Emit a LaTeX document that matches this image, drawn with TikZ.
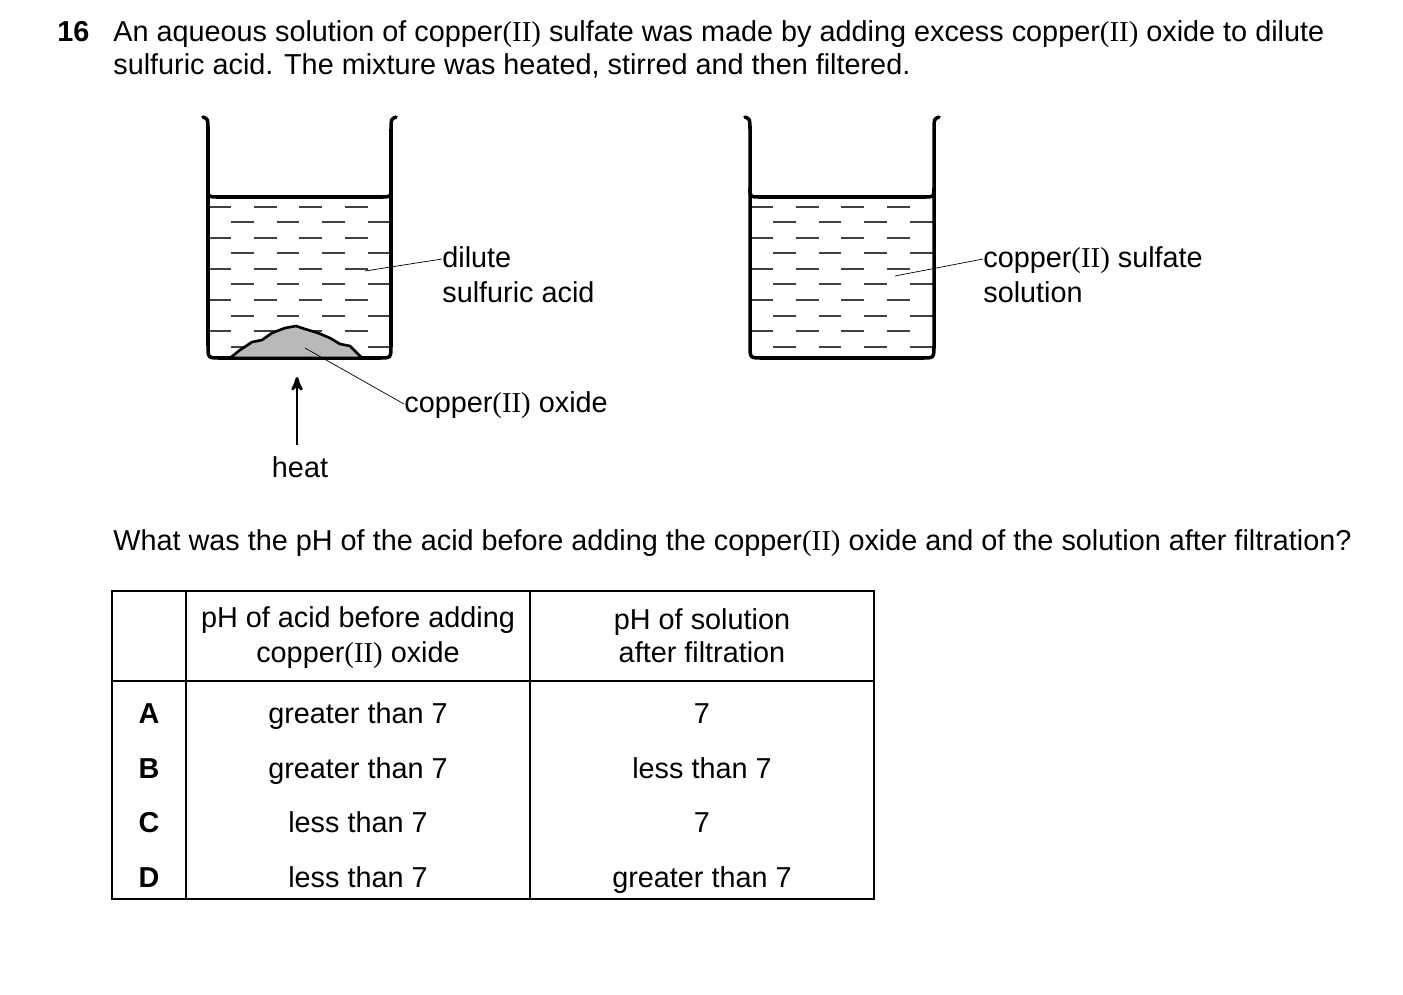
\documentclass[tikz,border=0pt]{standalone}
\usepackage{fontspec}
\setmainfont{Liberation Sans}
\newfontfamily\romfont{Liberation Serif}
\usetikzlibrary{arrows}
\newcommand{\cuII}{{\romfont(II)}}
\newcommand{\beaker}[2]{%
  \begin{scope}
    \clip (#1+1,198) rectangle (#2-1,357);
    \foreach \y in {207,238,269,300,331}
      \draw[liquid] (#1,\y) -- (#2,\y);
    \foreach \y in {222,253,284,316,347}
      \draw[liquid,dash phase=13] (#1,\y) -- (#2,\y);
  \end{scope}
  \draw[glass] (#1-5,117) .. controls (#1,119) .. (#1,130) -- (#1,345)
    .. controls (#1,358) .. (#1+12,358) -- (#2-12,358)
    .. controls (#2,358) .. (#2,345) -- (#2,130)
    .. controls (#2,119) .. (#2+5,117);
  \draw[glass] (#1,188) .. controls (#1,197) .. (#1+10,197) -- (#2-10,197)
    .. controls (#2,197) .. (#2,188);
}

\begin{document}
\begin{tikzpicture}[x=0.02cm,y=-0.02cm,>=stealth',
	glass/.style={line width=2pt,line cap=round},
	liquid/.style={line width=0.8pt,dash pattern=on 13 off 13,black!75},
	lbl/.style={font=\fontsize{16.4}{20}\selectfont,inner sep=0pt,anchor=base west},
	cell/.style={font=\fontsize{16.4}{20}\selectfont,align=center,inner sep=0pt,anchor=base}]
	\useasboundingbox (0,0) rectangle (1403,994);
	
	% question
	\node[lbl,font=\fontsize{16.4}{20}\selectfont\bfseries] (num) at (57,41) {16};
	\node[lbl] (q1) at (113,41) {An aqueous solution of copper\cuII{} sulfate was made by adding excess copper\cuII{} oxide to dilute};
	\node[lbl] (q2) at (113,74) {sulfuric acid. The mixture was heated, stirred and then filtered.};
	
	% beakers
	\beaker{208}{391}
	\beaker{750}{934}
	\fill[gray!55,draw=black,line width=1.5pt] (230,358) -- (240,350) -- (252,342) -- (262,340)
	  -- (272,333) -- (285,328) -- (296,326) -- (305,329) -- (318,333) -- (330,338)
	  -- (340,344) -- (350,346) -- (356,352) -- (362,358) -- cycle;
	
	% labels
	\coordinate (acid) at (365,271);
	\coordinate (oxide) at (305,348);
	\coordinate (sulfate) at (895,276);
	\node[lbl] (dil) at (442,267) {dilute};
	\node[lbl] (sulf) at (442,302) {sulfuric acid};
	\node[lbl] (cuo) at (404,412) {copper\cuII{} oxide};
	\node[lbl] (cus) at (983,267) {copper\cuII{} sulfate};
	\node[lbl] (sol) at (983,302) {solution};
	\node[lbl,anchor=base] (heat) at (300,477) {heat};
	\draw[thin] (acid) -- (dil.west|-0,259);
	\draw[thin] (oxide) -- (cuo.west|-0,404);
	\draw[thin] (sulfate) -- (cus.west|-0,259);
	\coordinate (heattail) at (297,445);
	\coordinate (heathead) at (297,377);
	\draw[->,line width=1.6pt] (heattail) -- (heathead);
	
	\node[lbl] (q3) at (113,550) {What was the pH of the acid before adding the copper\cuII{} oxide and of the solution after filtration?};
	
	% table
	\draw[line width=1pt] (112,591) rectangle (874,899);
	\draw[line width=1pt] (112,681) -- (874,681);
	\draw[line width=1pt] (186,591) -- (186,899);
	\draw[line width=1pt] (530,591) -- (530,899);
	\node[cell] (h1a) at (358,627) {pH of acid before adding};
	\node[cell] (h1b) at (358,662) {copper\cuII{} oxide};
	\node[cell] (h2a) at (702,629) {pH of solution};
	\node[cell] (h2b) at (702,662) {after filtration};
	\foreach \k/\a/\b [count=\i] in {A/greater than 7/7,B/greater than 7/less than 7,C/less than 7/7,D/less than 7/greater than 7}{
	  \node[cell,font=\fontsize{16.4}{20}\selectfont\bfseries] (k\i) at (149,669+54.5*\i) {\k};
	  \node[cell] (a\i) at (358,669+54.5*\i) {\a};
	  \node[cell] (b\i) at (702,669+54.5*\i) {\b};
	}
\end{tikzpicture}
\end{document}
